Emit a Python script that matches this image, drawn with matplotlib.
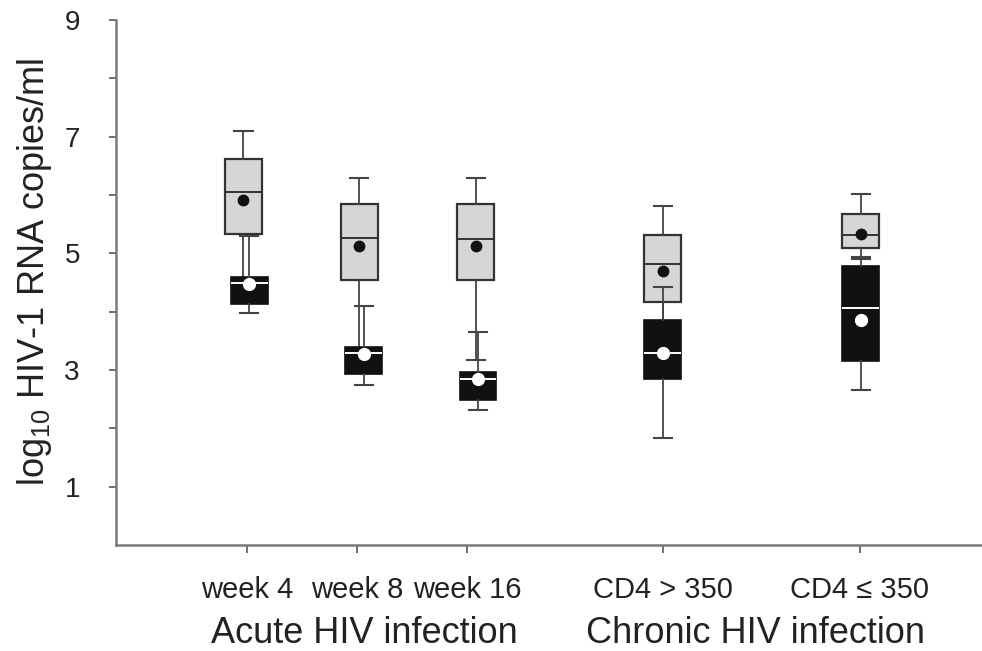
import numpy as np
import matplotlib
matplotlib.use("Agg")
import matplotlib.pyplot as plt

plt.rcParams['font.family'] = ['Liberation Sans', 'DejaVu Sans']
plt.rcParams['mathtext.fontset'] = 'custom'
plt.rcParams['mathtext.rm'] = 'Liberation Sans'
plt.rcParams['mathtext.it'] = 'Liberation Sans:italic'

# categories
categories = ['week 4', 'week 8', 'week 16', 'CD4 > 350', 'CD4 \u2264 350']
groups = ['Acute HIV infection', 'Chronic HIV infection']

# light grey boxes
grey_whislo = [4.30, 3.10, 3.18, 3.50, 4.90]
grey_q1     = [5.33, 4.55, 4.55, 4.16, 5.10]
grey_med    = [6.05, 5.26, 5.24, 4.81, 5.31]
grey_q3     = [6.61, 5.84, 5.84, 5.31, 5.67]
grey_whishi = [7.09, 6.30, 6.30, 5.81, 6.01]
grey_mean   = [5.91, 5.12, 5.12, 4.69, 5.34]

# black boxes
black_whislo = [3.97, 2.75, 2.32, 1.84, 2.65]
black_q1     = [4.14, 2.94, 2.49, 2.84, 3.15]
black_med    = [4.49, 3.30, 2.84, 3.30, 4.06]
black_q3     = [4.60, 3.40, 2.96, 3.85, 4.79]
black_whishi = [5.30, 4.09, 3.66, 4.42, 4.93]
black_mean   = [4.48, 3.28, 2.84, 3.30, 3.85]

# layout
tick_x  = [1, 2, 3, 4.78, 6.57]
grey_x  = [0.968, 2.02, 3.08, 4.78, 6.58]
black_x = [1.02, 2.06, 3.10, 4.78, 6.58]
group_x = [2.07, 5.62]

def stats(lo, q1, med, q3, hi, mean):
    return [dict(whislo=a, q1=b, med=c, q3=d, whishi=e, mean=f, fliers=[])
            for a, b, c, d, e, f in zip(lo, q1, med, q3, hi, mean)]

fig = plt.figure(figsize=(9.82, 6.51), dpi=100)
ax = fig.add_axes([116/982, 1-545/651, 1-116/982, (545-20)/651])

edge = '#333333'
ax.bxp(stats(grey_whislo, grey_q1, grey_med, grey_q3, grey_whishi, grey_mean),
       positions=grey_x, widths=0.336, patch_artist=True, showmeans=True,
       showfliers=False, capwidths=0.165, manage_ticks=False,
       boxprops=dict(facecolor='#d6d6d6', edgecolor=edge, linewidth=1.6),
       medianprops=dict(color=edge, linewidth=1.4),
       whiskerprops=dict(color='#444444', linewidth=1.3),
       capprops=dict(color='#444444', linewidth=1.5),
       meanprops=dict(marker='o', markerfacecolor='#111111', markeredgecolor='#111111',
                      markersize=7.5),
       zorder=2)

ax.bxp(stats(black_whislo, black_q1, black_med, black_q3, black_whishi, black_mean),
       positions=black_x, widths=0.336, patch_artist=True, showmeans=True,
       showfliers=False, capwidths=0.165, manage_ticks=False,
       boxprops=dict(facecolor='#111111', edgecolor='#111111', linewidth=1.2),
       medianprops=dict(color='white', linewidth=1.4),
       whiskerprops=dict(color='#444444', linewidth=1.3),
       capprops=dict(color='#444444', linewidth=1.5),
       meanprops=dict(marker='o', markerfacecolor='white', markeredgecolor='white',
                      markersize=8.5),
       zorder=3)

ax.set_xlim(1 - 131/110, 1 + 866/110 - 131/110)
ax.set_ylim(0, 9)
ax.set_yticks([1, 3, 5, 7, 9])
ax.set_yticks([2, 4, 6, 8], minor=True)
ax.set_xticks(tick_x)
ax.set_xticklabels(categories)

for s in ['top', 'right']:
    ax.spines[s].set_visible(False)
for s in ['left', 'bottom']:
    ax.spines[s].set_color('#7a7a7a')
    ax.spines[s].set_linewidth(1.8)

ax.tick_params(axis='y', which='both', direction='out', length=5, width=1.2,
               color='#555555', labelsize=20, pad=21, labelcolor='#222222')
ax.tick_params(axis='x', direction='out', length=6, width=1.2, color='#555555',
               labelsize=21, pad=16, labelcolor='#222222')

ax.set_ylabel(r'log$_{10}$ HIV-1 RNA copies/ml', fontsize=26, color='#222222')
ax.yaxis.set_label_coords(-0.072, 0.52)

for gx, g in zip(group_x, groups):
    ax.text(gx, -0.168, g, transform=ax.get_xaxis_transform(), ha='center', va='center',
            fontsize=26, color='#222222')

fig.savefig('out.png', dpi=100)
